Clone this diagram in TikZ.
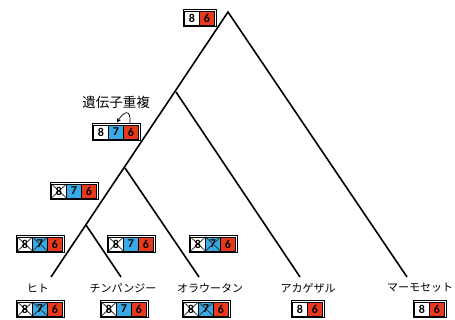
\documentclass[tikz,border=0pt]{standalone}
\usepackage{fontspec}
\newfontfamily\jp{Noto Sans CJK JP}
\newfontfamily\dig{Carlito}
\usetikzlibrary{arrows.meta}
\definecolor{cblue}{RGB}{55,170,230}
\definecolor{cred}{RGB}{232,56,30}
\begin{document}
\begin{tikzpicture}[x=1pt,y=-1pt,
 branch/.style={line width=1.6pt},
 cell/.style={draw=black, line width=0.9pt, minimum width=15pt, minimum height=14pt, inner sep=0pt, outer sep=0pt, anchor=west, font=\dig\bfseries\fontsize{12}{12}\selectfont},
 cw/.style={cell, fill=white},
 cb/.style={cell, fill=cblue},
 cr/.style={cell, fill=cred},
 frame/.style={draw=black, line width=1pt},
 lost/.style={path picture={\draw[line width=0.8pt, black!80] (path picture bounding box.north west) -- (path picture bounding box.south east) (path picture bounding box.south west) -- (path picture bounding box.north east);}},
 lbl/.style={font=\jp\fontsize{11}{11}\selectfont},
 dupl/.style={font=\jp\fontsize{13.5}{13.5}\selectfont}
]
\path[fill=white] (0,0) rectangle (455,320);
\useasboundingbox (0,0) rectangle (455,320);

% tree
\coordinate (root) at (228,12);
\coordinate (n1) at (176,92);
\coordinate (n2) at (125,168);
\coordinate (n3) at (86,225);
\coordinate (hum) at (51,277);
\coordinate (chi) at (121,277);
\coordinate (ora) at (199,277);
\coordinate (aka) at (300,277);
\coordinate (mar) at (407,277);
\draw[branch] (hum) -- (root) -- (mar);
\draw[branch] (n1) -- (aka);
\draw[branch] (n2) -- (ora);
\draw[branch] (n3) -- (chi);

% root box
\node[cw] (t1) at (184.5,18) {8};
\node[cr] (t2) at (t1.east) {6};
\draw[frame] ([shift={(-1.5,-1.5)}]t1.north west) rectangle ([shift={(1.5,1.5)}]t2.south east);

% duplication
\node[dupl] (duplab) at (116,102) {遺伝子重複};
\node[cw] (d1) at (93.5,132) {8};
\node[cb] (d2) at (d1.east) {7};
\node[cr] (d3) at (d2.east) {6};
\draw[frame] ([shift={(-1.5,-1.5)}]d1.north west) rectangle ([shift={(1.5,1.5)}]d3.south east);
\draw[line width=0.7pt, -{Stealth[length=4.5pt,width=4.5pt]}] ([xshift=-1pt,yshift=2pt]d3.north) .. controls +(1,-16) and +(6,-10) .. ([xshift=1pt,yshift=2.5pt]d2.north);

% n2 box
\node[cw,lost] (a1) at (51.5,191) {8};
\node[cb] (a2) at (a1.east) {7};
\node[cr] (a3) at (a2.east) {6};
\draw[frame] ([shift={(-1.5,-1.5)}]a1.north west) rectangle ([shift={(1.5,1.5)}]a3.south east);

% human ancestral
\node[cw,lost] (h1) at (17.5,244) {8};
\node[cb,lost] (h2) at (h1.east) {7};
\node[cr] (h3) at (h2.east) {6};
\draw[frame] ([shift={(-1.5,-1.5)}]h1.north west) rectangle ([shift={(1.5,1.5)}]h3.south east);

% chimp ancestral
\node[cw,lost] (c1) at (108.5,244) {8};
\node[cb] (c2) at (c1.east) {7};
\node[cr] (c3) at (c2.east) {6};
\draw[frame] ([shift={(-1.5,-1.5)}]c1.north west) rectangle ([shift={(1.5,1.5)}]c3.south east);

% orangutan ancestral
\node[cw,lost] (o1) at (190.5,244) {8};
\node[cb,lost] (o2) at (o1.east) {7};
\node[cr] (o3) at (o2.east) {6};
\draw[frame] ([shift={(-1.5,-1.5)}]o1.north west) rectangle ([shift={(1.5,1.5)}]o3.south east);

% labels
\node[lbl] (lh) at (38,288) {ヒト};
\node[lbl] (lc) at (123,288) {チンパンジー};
\node[lbl] (lo) at (210,288) {オラウータン};
\node[lbl] (la) at (308,288) {アカゲザル};
\node[lbl] (lm) at (420,288) {マーモセット};

% bottom boxes
\node[cw,lost] (bh1) at (17.5,309) {8};
\node[cb,lost] (bh2) at (bh1.east) {7};
\node[cr] (bh3) at (bh2.east) {6};
\draw[frame] ([shift={(-1.5,-1.5)}]bh1.north west) rectangle ([shift={(1.5,1.5)}]bh3.south east);

\node[cw,lost] (bc1) at (101.5,309) {8};
\node[cb] (bc2) at (bc1.east) {7};
\node[cr] (bc3) at (bc2.east) {6};
\draw[frame] ([shift={(-1.5,-1.5)}]bc1.north west) rectangle ([shift={(1.5,1.5)}]bc3.south east);

\node[cw,lost] (bo1) at (183.5,309) {8};
\node[cb,lost] (bo2) at (bo1.east) {7};
\node[cr] (bo3) at (bo2.east) {6};
\draw[frame] ([shift={(-1.5,-1.5)}]bo1.north west) rectangle ([shift={(1.5,1.5)}]bo3.south east);

\node[cw] (ba1) at (292.5,309) {8};
\node[cr] (ba2) at (ba1.east) {6};
\draw[frame] ([shift={(-1.5,-1.5)}]ba1.north west) rectangle ([shift={(1.5,1.5)}]ba2.south east);

\node[cw] (bm1) at (414.5,309) {8};
\node[cr] (bm2) at (bm1.east) {6};
\draw[frame] ([shift={(-1.5,-1.5)}]bm1.north west) rectangle ([shift={(1.5,1.5)}]bm2.south east);
\end{tikzpicture}
\end{document}
